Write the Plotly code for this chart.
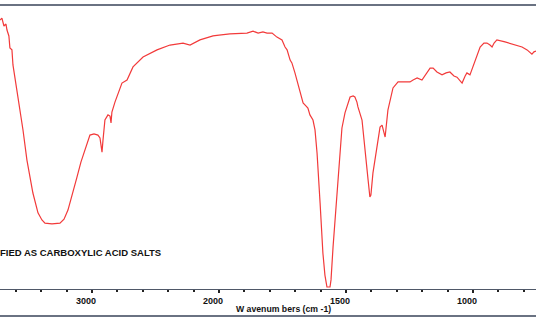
import plotly.graph_objects as go

# Wavenumber (cm-1) and %T, high-wavenumber section (compressed scale, 4000-2000)
wn_high = [3724, 3709, 3693, 3677, 3669, 3654, 3646, 3630, 3622, 3591, 3567, 3543, 3512,
           3465, 3425, 3394, 3370, 3315, 3252, 3220, 3189, 3150, 3118, 3087, 3055, 3031,
           3016, 2984, 2953, 2937, 2921, 2913, 2898, 2874, 2858, 2850, 2843, 2819, 2787,
           2764, 2724, 2677, 2598, 2488, 2386, 2283, 2228, 2150, 2047, 2000]
t_high = [94.7, 95.4, 92.6, 93.3, 91.2, 89.1, 84.9, 84.2, 78.9, 70.1, 62.3, 56.0, 45.4,
          33.8, 26.8, 24.3, 23.2, 22.9, 23.2, 24.6, 27.8, 33.8, 39.4, 44.7, 48.9, 52.8,
          54.2, 54.6, 54.2, 53.2, 48.2, 52.5, 59.5, 61.3, 60.9, 58.5, 62.3, 65.8, 70.1,
          72.5, 73.6, 78.2, 81.7, 84.2, 85.9, 86.6, 85.9, 87.7, 89.1, 89.4]

# Low-wavenumber section (expanded scale, 2000-750)
wn_low = [2000, 1957, 1890, 1866, 1846, 1827, 1811, 1791, 1772, 1760, 1752, 1740, 1732,
          1720, 1713, 1701, 1693, 1681, 1669, 1657, 1650, 1642, 1630, 1622, 1614, 1602,
          1591, 1583, 1575, 1563, 1559, 1551, 1543, 1535, 1524, 1516, 1504, 1492, 1484,
          1472, 1465, 1457, 1453, 1437, 1425, 1413, 1406, 1402, 1394, 1378, 1366, 1358,
          1346, 1335, 1315, 1295, 1268, 1248, 1236, 1220, 1201, 1185, 1169, 1157, 1142,
          1122, 1106, 1091, 1075, 1063, 1043, 1031, 1024, 1012, 992, 972, 957, 945, 933,
          925, 917, 906, 874, 847, 827, 807, 787, 768, 760, 752]
t_low = [89.4, 89.8, 90.1, 90.8, 90.1, 90.5, 90.1, 90.1, 88.7, 88.0, 87.7, 85.2, 84.2,
         80.6, 79.6, 76.1, 73.6, 69.4, 65.5, 64.4, 63.7, 61.3, 59.5, 56.0, 47.9, 30.3,
         12.7, 4.9, 0.7, 0.7, 3.2, 14.8, 24.3, 33.8, 50.0, 56.7, 62.0, 65.8, 67.6,
         68.0, 67.6, 65.8, 64.1, 59.5, 50.0, 38.4, 32.4, 33.1, 40.8, 50.0, 57.0, 57.7,
         53.5, 63.0, 70.8, 72.9, 72.9, 72.9, 73.6, 74.3, 73.6, 75.7, 77.8, 77.8, 76.4,
         75.4, 76.1, 76.4, 75.0, 74.6, 72.5, 75.0, 76.1, 75.4, 80.6, 85.2, 86.6, 86.6, 85.9,
         85.2, 86.6, 87.7, 87.0, 86.3, 85.9, 85.2, 84.2, 82.7, 83.5, 83.8]

major_high = [3000]
major_low = [2000, 1500, 1000]

line_color = "#f23a3a"
axis_color = "#4f5868"
W, H = 536, 320
top, bottom = 5, 31
split = 219 / W

fig = go.Figure()
fig.add_trace(go.Scatter(x=wn_high, y=t_high, mode="lines", xaxis="x", yaxis="y",
                         line=dict(color=line_color, width=1.2), showlegend=False))
fig.add_trace(go.Scatter(x=wn_low, y=t_low, mode="lines", xaxis="x2", yaxis="y",
                         line=dict(color=line_color, width=1.2), showlegend=False))

tick_font = dict(family="Liberation Sans, Arial", size=9, color="#111")
common = dict(showgrid=False, zeroline=False, showline=True, linecolor=axis_color,
              linewidth=1.2, ticks="outside", ticklen=3, tickwidth=1.5,
              tickcolor="#222", tickfont=tick_font, automargin=False,
              ticklabelshift=6)

fig.update_layout(
    width=W, height=H,
    margin=dict(l=0, r=0, t=top, b=bottom, pad=0, autoexpand=False),
    paper_bgcolor="white", plot_bgcolor="white",
    xaxis=dict(domain=[0, split], range=[3724, 2000], anchor="y",
               tickmode="array", tickvals=major_high,
               ticktext=[f"<b>{v}</b>" for v in major_high],
               minor=dict(tickmode="linear", tick0=2000, dtick=200, ticks="outside",
                          ticklen=2, tickwidth=2, tickcolor="#222"),
               **common),
    xaxis2=dict(domain=[split, 1], range=[2000, 752], anchor="y",
                tickmode="array", tickvals=major_low,
                ticktext=[f"<b>{v}</b>" for v in major_low],
                minor=dict(tickmode="linear", tick0=2000, dtick=100, ticks="outside",
                           ticklen=2, tickwidth=2, tickcolor="#222"),
                **common),
    yaxis=dict(range=[0, 100], visible=False, showgrid=False, zeroline=False,
               automargin=False),
)

plot_h = H - top - bottom
# frame lines (top border and bottom border of the scanned page)
fig.add_shape(type="line", xref="paper", yref="paper", x0=0, x1=1, y0=1, y1=1,
              line=dict(color="#6a7282", width=2))
fig.add_shape(type="line", xref="paper", yref="paper", x0=0, x1=1,
              y0=-(316 - 289) / plot_h, y1=-(316 - 289) / plot_h,
              line=dict(color="#6a7282", width=2))

fig.add_annotation(text="<b>W avenum bers (cm -1)</b>", xref="paper", yref="paper",
                   x=283 / W, y=-(308.5 - 289) / plot_h, showarrow=False,
                   xanchor="center", yanchor="middle",
                   font=dict(family="Liberation Sans, Arial", size=8.7, color="#111"))
fig.add_annotation(text="<b>FIED AS CARBOXYLIC ACID SALTS</b>", xref="paper", yref="paper",
                   x=0, y=(289 - 252) / plot_h, showarrow=False, xshift=-2,
                   xanchor="left", yanchor="middle",
                   font=dict(family="Liberation Sans, Arial", size=9.5, color="#111"))

fig.write_html("out.html")
